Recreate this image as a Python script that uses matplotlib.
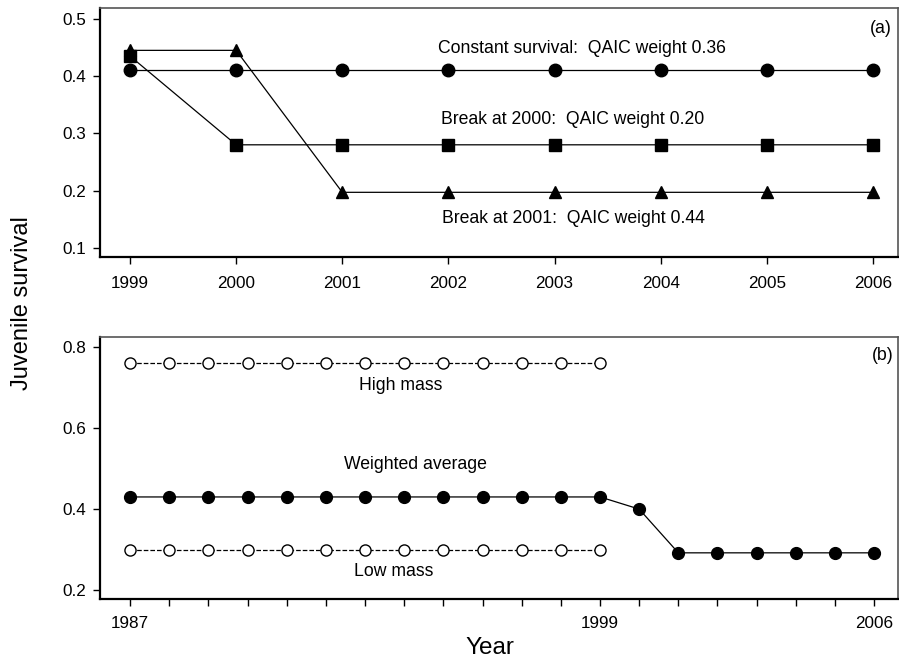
import matplotlib
matplotlib.use("Agg")
import matplotlib.pyplot as plt

plt.rcParams['font.family'] = ['Liberation Sans', 'DejaVu Sans']

# Panel (a)
years_a = [1999, 2000, 2001, 2002, 2003, 2004, 2005, 2006]
constant = [0.41, 0.41, 0.41, 0.41, 0.41, 0.41, 0.41, 0.41]
break2000 = [0.435, 0.28, 0.28, 0.28, 0.28, 0.28, 0.28, 0.28]
break2001 = [0.445, 0.445, 0.197, 0.197, 0.197, 0.197, 0.197, 0.197]
yticks_a = [0.1, 0.2, 0.3, 0.4, 0.5]

# Panel (b)
years_mass = list(range(1987, 2000))
high_mass = [0.76] * 13
low_mass = [0.30] * 13
years_avg = list(range(1987, 2007))
weighted = [0.43] * 13 + [0.40] + [0.292] * 6
yticks_b = [0.2, 0.4, 0.6, 0.8]
xticklabels_b = {1987: '1987', 1999: '1999', 2006: '2006'}

fig = plt.figure(figsize=(8.99, 6.59), dpi=100)
W, H = 899, 659
axA = fig.add_axes([100 / W, 1 - 257 / H, 798 / W, 249 / H])
axB = fig.add_axes([100 / W, 1 - 599 / H, 798 / W, 262 / H])

def style(ax, pad):
    for s in ['left', 'bottom']:
        ax.spines[s].set_linewidth(1.6)
        ax.spines[s].set_color('black')
    for s in ['top', 'right']:
        ax.spines[s].set_linewidth(1.2)
        ax.spines[s].set_color('#555555')
    ax.tick_params(direction='out', length=5, width=1, labelsize=12.3)
    ax.tick_params(axis='x', pad=pad)
    ax.tick_params(axis='y', pad=5)

lw = 0.9
fs = 12.7
axA.plot(years_a, constant, '-o', color='black', lw=lw, ms=9)
axA.plot(years_a, break2000, '-s', color='black', lw=lw, ms=9)
axA.plot(years_a, break2001, '-^', color='black', lw=lw, ms=9)
axA.set_xlim(1998.717, 2006.236)
axA.set_ylim(0.084, 0.519)
axA.set_xticks(years_a)
axA.set_xticklabels([str(y) for y in years_a])
axA.set_yticks(yticks_a)
axA.set_yticklabels([f'{v:.1f}' for v in yticks_a])
axA.text(2003.26, 0.449, 'Constant survival:  QAIC weight 0.36', fontsize=fs, va='center', ha='center')
axA.text(2003.17, 0.324, 'Break at 2000:  QAIC weight 0.20', fontsize=fs, va='center', ha='center')
axA.text(2003.18, 0.152, 'Break at 2001:  QAIC weight 0.44', fontsize=fs, va='center', ha='center')
axA.text(0.9925, 0.916, '(a)', transform=axA.transAxes, fontsize=fs, ha='right', va='center')
style(axA, 8.5)

axB.plot(years_mass, high_mass, '--o', color='black', lw=lw, ms=8, mfc='white', mec='black', mew=1)
axB.plot(years_mass, low_mass, '--o', color='black', lw=lw, ms=8, mfc='white', mec='black', mew=1)
axB.plot(years_avg, weighted, '-o', color='black', lw=lw, ms=8.5)
axB.set_xlim(1986.23, 2006.61)
axB.set_ylim(0.178, 0.825)
axB.set_xticks(years_avg)
axB.set_xticklabels([xticklabels_b.get(y, '') for y in years_avg])
axB.set_yticks(yticks_b)
axB.set_yticklabels([f'{v:.1f}' for v in yticks_b])
axB.text(1993.9, 0.704, 'High mass', fontsize=fs, ha='center', va='center')
axB.text(1994.29, 0.509, 'Weighted average', fontsize=fs, ha='center', va='center')
axB.text(1993.73, 0.247, 'Low mass', fontsize=fs, ha='center', va='center')
axB.text(0.994, 0.931, '(b)', transform=axB.transAxes, fontsize=fs, ha='right', va='center')
style(axB, 7)

fig.text(22 / W, 1 - 303 / H, 'Juvenile survival', rotation=90, fontsize=17, ha='center', va='center')
fig.text(490 / W, 1 - 648 / H, 'Year', fontsize=17.5, ha='center', va='center')

fig.savefig('out.png', dpi=100)
